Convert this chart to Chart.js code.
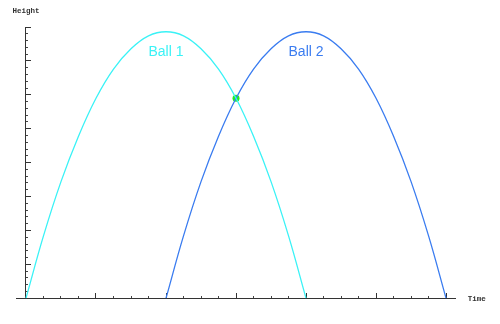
<!DOCTYPE html>
<html>
<head>
<meta charset="utf-8">
<script src="https://cdn.jsdelivr.net/npm/chart.js@4"></script>
<style>
  body { margin: 0; background: #fff; }
  #wrap { width: 500px; height: 324px; }
</style>
</head>
<body>
<div id="wrap"><canvas id="ballChart"></canvas></div>
<script>
// time steps (one axis tick = one step)
const ball1Times = [0, 1, 2, 3, 4, 5, 6, 7, 8, 9, 10, 11, 12, 13, 14, 15, 16];
const ball2Times = [8, 9, 10, 11, 12, 13, 14, 15, 16, 17, 18, 19, 20, 21, 22, 23, 24];
// heights (one axis tick = one unit)
const ball1Heights = [0, 9.2, 17.2, 23.9, 29.5, 33.8, 36.8, 38.7, 39.3, 38.7, 36.8, 33.8, 29.5, 23.9, 17.2, 9.2, 0];
const ball2Heights = [0, 9.2, 17.2, 23.9, 29.5, 33.8, 36.8, 38.7, 39.3, 38.7, 36.8, 33.8, 29.5, 23.9, 17.2, 9.2, 0];
// where the two paths cross
const meetTime = [12];
const meetHeight = [29.5];
// series labels and their anchor points
const seriesNames = ['Ball 1', 'Ball 2'];
const labelTimes = [8, 16];
const labelHeights = [36.3, 36.3];

const cyan = '#3af2f6';
const blue = '#3a7cf0';

const toPoints = (xs, ys) => xs.map((x, i) => ({ x: x, y: ys[i] }));

// draws the axis names and ball names next to the scales
const textPlugin = {
    id: 'texts',
    afterDraw(chart) {
        const ctx = chart.ctx;
        const xs = chart.scales.x;
        const ys = chart.scales.y;
        ctx.save();
        ctx.fillStyle = '#333';
        ctx.font = 'bold 7.5px "Liberation Mono", monospace';
        ctx.textBaseline = 'middle';
        ctx.textAlign = 'center';
        ctx.fillText('Height', xs.getPixelForValue(0), ys.top - 16);
        ctx.textAlign = 'left';
        ctx.fillText('Time', xs.right + 12, ys.getPixelForValue(0) + 1);

        ctx.font = '14px "Liberation Sans", Arial, sans-serif';
        ctx.textAlign = 'center';
        const colors = [cyan, blue];
        seriesNames.forEach((name, i) => {
            ctx.fillStyle = colors[i];
            ctx.fillText(name, xs.getPixelForValue(labelTimes[i]), ys.getPixelForValue(labelHeights[i]));
        });
        ctx.restore();
    }
};

const majorTicks = (step, len) => ({
    type: 'linear',
    display: true,
    ticks: { display: false, stepSize: step, includeBounds: false },
    grid: { drawOnChartArea: false, drawTicks: true, tickLength: len, color: '#333', tickWidth: 1 },
    border: { display: false }
});

const ctx = document.getElementById('ballChart').getContext('2d');
const myChart = new Chart(ctx, {
    type: 'line',
    data: {
        datasets: [
            {
                label: seriesNames[0],
                data: toPoints(ball1Times, ball1Heights),
                borderColor: cyan,
                borderWidth: 1.3,
                pointRadius: 0,
                tension: 0.4,
                fill: false
            },
            {
                label: seriesNames[1],
                data: toPoints(ball2Times, ball2Heights),
                borderColor: blue,
                borderWidth: 1.3,
                pointRadius: 0,
                tension: 0.4,
                fill: false
            },
            {
                label: 'meet',
                data: toPoints(meetTime, meetHeight),
                showLine: false,
                pointRadius: 3.5,
                pointBackgroundColor: '#22ee22',
                pointBorderColor: '#22dd22',
                pointBorderWidth: 0
            }
        ]
    },
    options: {
        responsive: true,
        maintainAspectRatio: false,
        animation: false,
        layout: { padding: { left: 16, right: 44.3, top: 27, bottom: 25.7 } },
        plugins: {
            legend: { display: false },
            tooltip: { enabled: false }
        },
        scales: {
            x: {
                type: 'linear',
                min: -0.57,
                max: 24.55,
                position: { y: 0 },
                ticks: { display: false, stepSize: 1, includeBounds: false },
                grid: { drawOnChartArea: false, tickLength: -3, color: '#444' },
                border: { display: true, color: '#333', width: 1 }
            },
            y: {
                type: 'linear',
                min: 0,
                max: 40,
                position: { x: 0 },
                ticks: { display: false, stepSize: 1, includeBounds: false },
                grid: { drawOnChartArea: false, tickLength: -3, color: '#444' },
                border: { display: true, color: '#333', width: 1 }
            },
            xMajor: Object.assign(majorTicks(4, -5), { axis: 'x', min: -0.57, max: 24.55, position: { y: 0 } }),
            yMajor: Object.assign(majorTicks(5, -5), { axis: 'y', min: 0, max: 40, position: { x: 0 } })
        }
    },
    plugins: [textPlugin]
});
</script>
</body>
</html>
